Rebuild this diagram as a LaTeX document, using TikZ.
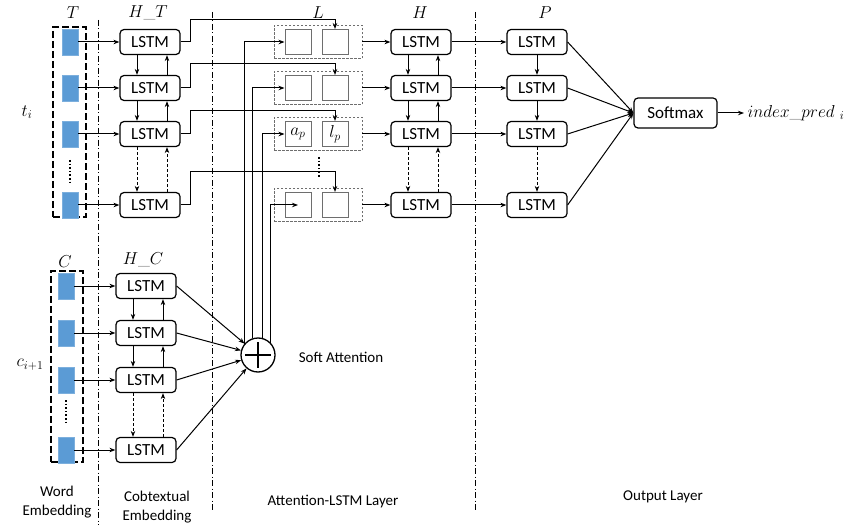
\documentclass[tikz,border=0pt]{standalone}
\usepackage{fontspec}
\setsansfont{Carlito}
\usetikzlibrary{arrows.meta,positioning,calc}
\definecolor{celda}{RGB}{91,155,213}
\definecolor{grisl}{RGB}{110,110,110}
\tikzset{
  lstm/.style={draw, rounded corners=4pt, line width=1.2pt, minimum width=60pt, minimum height=25pt, inner sep=0pt, font=\sffamily\fontsize{17}{20}\selectfont},
  emb/.style={fill=celda, draw=celda!80!white, minimum width=16pt, minimum height=26pt, inner sep=0pt},
  grupo/.style={draw, dash pattern=on 7pt off 3pt, line width=1.3pt, inner sep=0pt},
  celdal/.style={draw=grisl, dash pattern=on 2.5pt off 1.5pt, line width=0.8pt, minimum width=88pt, minimum height=33pt, inner sep=0pt},
  cuad/.style={draw=grisl, line width=1pt, minimum width=26pt, minimum height=25pt, inner sep=0pt},
  fl/.style={-{Stealth[length=6pt,width=4.5pt]}, line width=1pt},
  fld/.style={fl, dash pattern=on 3pt off 2pt},
  sep/.style={line width=1pt, dash pattern=on 6pt off 2.5pt on 1pt off 2.5pt},
  capa/.style={font=\sffamily\fontsize{15}{19}\selectfont, align=center},
  mat/.style={font=\fontsize{17}{20}\selectfont},
  puntos/.style={line width=1.6pt, dotted},
}
\begin{document}
\begin{tikzpicture}[x=1pt,y=-1pt]
  \useasboundingbox (0,0) rectangle (858,529);
  % layer separators
  \draw[sep] (98,20) -- (98,525);
  \draw[sep] (212,12) -- (212,510);
  \draw[sep] (475,12) -- (475,510);
  % embedding groups
  \node[grupo, minimum width=33pt, minimum height=190pt] (gT) at (69.5,122) {};
  \node[grupo, minimum width=32pt, minimum height=191pt] (gC) at (67,366.5) {};
  \foreach \i/\y in {1/42,2/88,3/134,4/205}{
    \node[emb] (t\i) at (70,\y) {};
    \node[lstm] (ht\i) at (150,\y) {LSTM};
    \node[celdal] (l\i) at (318,\y) {};
    \node[cuad] (a\i) at (298,\y) {};
    \node[cuad] (b\i) at (335,\y) {};
    \node[lstm] (h\i) at (421,\y) {LSTM};
    \node[lstm] (p\i) at (537,\y) {LSTM};
    \draw[fl] (t\i) -- (ht\i);
    \draw[fl] (l\i) -- (h\i);
    \draw[fl] (h\i) -- (p\i);
  }
  \node[mat] (ap) at (a3) {$a_p$};
  \node[mat] (lp) at (b3) {$l_p$};
  \foreach \i/\y in {1/286,2/333,3/380,4/450}{
    \node[emb] (c\i) at (66,\y) {};
    \node[lstm] (hc\i) at (146,\y) {LSTM};
    \draw[fl] (c\i) -- (hc\i);
  }
  \draw[puntos] (70,160) -- (70,183);
  \draw[puntos] (66,400) -- (66,425);
  \draw[puntos] (319,157) -- (319,178);
  % recurrent links
  \foreach \col in {ht,hc,h}{
    \foreach \i/\j in {1/2,2/3}{
      \draw[fl] ([xshift=-13pt]\col\i.south) -- ([xshift=-13pt]\col\j.north);
      \draw[fl] ([xshift=17pt]\col\j.north) -- ([xshift=17pt]\col\i.south);
    }
    \draw[fld] ([xshift=-13pt]\col3.south) -- ([xshift=-13pt]\col4.north);
    \draw[fld] ([xshift=17pt]\col4.north) -- ([xshift=17pt]\col3.south);
  }
  \draw[fl] (p1) -- (p2);
  \draw[fl] (p2) -- (p3);
  \draw[fld] (p3) -- (p4);
  % H_T into L
  \foreach \i/\ry in {1/20,2/64,3/111,4/172}
    \draw[fl] (ht\i.east) -- ++(10,0) |- (335,\ry) -- (b\i.north);
  % soft attention
  \node[draw, circle, line width=1.3pt, minimum size=34pt, inner sep=0pt] (att) at (258,355) {};
  \draw[line width=2pt] ($(att.center)+(-13,0)$) -- ($(att.center)+(13,0)$);
  \draw[line width=2pt] ($(att.center)+(0,-13)$) -- ($(att.center)+(0,13)$);
  \foreach \i in {1,...,4}
    \draw[fl] (hc\i.east) -- (att);
  \foreach \i/\ang/\anc in {1/140/west,2/107/west,3/76/west,4/45/center}
    \draw[fl] (att.\ang) |- (a\i.\anc);
  % output
  \node[lstm, minimum width=83pt, minimum height=30pt] (sm) at (675.5,113) {Softmax};
  \foreach \i in {1,...,4}
    \draw[fl] (p\i.east) -- (sm.west);
  \node[mat, anchor=west] (out) at (744,113) {$index\_pred_{\ i}$};
  \draw[fl] (sm) -- (out);
  % labels
  \node[mat] (lT) at (73,13) {$T$};
  \node[mat] (lHT) at (148,13) {$H\_T$};
  \node[mat] (lL) at (318,13) {$L$};
  \node[mat] (lH) at (420,13) {$H$};
  \node[mat] (lP) at (545,13) {$P$};
  \node[mat] (lC) at (65,262) {$C$};
  \node[mat] (lHC) at (143,260) {$H\_C$};
  \node[mat] (lti) at (27,112) {$t_i$};
  \node[mat] (lci) at (30,365) {$c_{i+1}$};
  \node[capa] (lsoft) at (341,357) {Soft Attention};
  \node[capa] (lwe) at (57,502) {Word\\Embedding};
  \node[capa] (lce) at (157,507) {Cobtextual\\Embedding};
  \node[capa] (lal) at (333,502) {Attention-LSTM Layer};
  \node[capa] (lout) at (663,497) {Output Layer};
\end{tikzpicture}
\end{document}
